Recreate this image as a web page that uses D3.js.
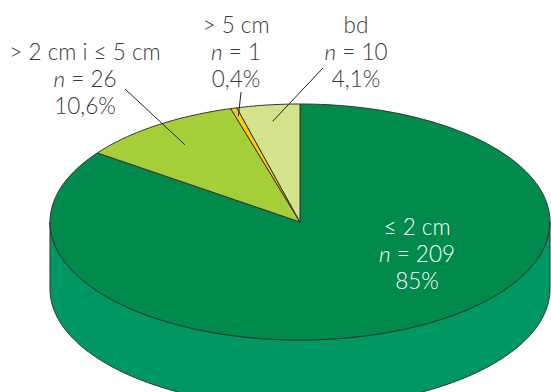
<!DOCTYPE html>
<html>
<head>
<meta charset="utf-8">
<script src="https://cdn.jsdelivr.net/npm/d3@7"></script>
<style>
  html, body { margin: 0; padding: 0; background: #fff; }
  svg { display: block; }
  .lbl { font-family: Lato, "Open Sans", sans-serif; font-weight: 300; font-size: 22.5px; }
</style>
</head>
<body>
<svg id="chart" width="551" height="392"></svg>
<script>
// ---- data ----
const categories = ['≤ 2 cm', '> 2 cm i ≤ 5 cm', '> 5 cm', 'bd'];
const counts     = [209, 26, 1, 10];
const percents   = ['85%', '10,6%', '0,4%', '4,1%'];
const topColors  = ['#008a4b', '#a6ce39', '#ffcc00', '#d3e38b'];
const sideColors = ['#009862', '#8fb52c', '#e0b000', '#bccb70'];

// ---- layout ----
const W = 551, H = 392;
const cx = 300, cy = 222, rx = 250, ry = 118, depth = 67;
// label anchor (centre of first line) + leader radius fraction (null = no leader)
const labelLayout = [
  { x: 417, y: 227, color: '#fff', lead: null },
  { x: 85,  y: 52,  color: '#3a3a3a', lead: 0.8,  from: [125, 89] },
  { x: 236, y: 25,  color: '#3a3a3a', lead: 0.93, from: [241, 92] },
  { x: 356, y: 25,  color: '#3a3a3a', lead: 0.86, from: [323, 68] }
];
const lineGap = 27;

const svg = d3.select('#chart');
const g = svg.append('g');

const data = categories.map((c, i) => ({ cat: c, n: counts[i], pct: percents[i], i }));
const pie = d3.pie().sort(null).value(d => d.n);
const arcs = pie(data);

const px = (a, r = 1) => cx + rx * r * Math.sin(a);
const py = (a, r = 1, dz = 0) => cy - ry * r * Math.cos(a) + dz;

function rimPath(a0, a1, dz, steps) {
  const pts = [];
  for (let k = 0; k <= steps; k++) {
    const a = a0 + (a1 - a0) * k / steps;
    pts.push([px(a), py(a, 1, dz)]);
  }
  return pts;
}

// side walls (front half only: angles pi/2 .. 3pi/2)
arcs.forEach(d => {
  const a0 = Math.max(d.startAngle, Math.PI / 2);
  const a1 = Math.min(d.endAngle, Math.PI * 1.5);
  if (a1 <= a0) return;
  const top = rimPath(a0, a1, 0, 120);
  const bot = rimPath(a0, a1, depth, 120).reverse();
  g.append('path')
    .attr('d', d3.line()(top.concat(bot)) + 'Z')
    .attr('fill', sideColors[d.data.i])
    .attr('stroke', '#333').attr('stroke-width', 1);
});

// top faces
arcs.forEach(d => {
  const steps = Math.max(4, Math.ceil((d.endAngle - d.startAngle) * 60));
  const pts = [[cx, cy]].concat(rimPath(d.startAngle, d.endAngle, 0, steps));
  g.append('path')
    .attr('d', d3.line()(pts) + 'Z')
    .attr('fill', topColors[d.data.i])
    .attr('stroke', '#333').attr('stroke-width', 1)
    .attr('stroke-linejoin', 'round');
});

// leader lines
arcs.forEach(d => {
  const L = labelLayout[d.data.i];
  if (L.lead == null) return;
  const mid = (d.startAngle + d.endAngle) / 2;
  g.append('line')
    .attr('x1', L.from[0]).attr('y1', L.from[1])
    .attr('x2', px(mid, L.lead)).attr('y2', py(mid, L.lead))
    .attr('stroke', '#222').attr('stroke-width', 1);
});

// labels
arcs.forEach(d => {
  const L = labelLayout[d.data.i];
  const t = g.append('text').attr('class', 'lbl')
    .attr('text-anchor', 'middle').attr('fill', L.color)
    .attr('x', L.x).attr('y', L.y).attr('dy', '0.35em');
  t.append('tspan').attr('x', L.x).text(d.data.cat);
  const l2 = t.append('tspan').attr('x', L.x).attr('dy', lineGap);
  l2.append('tspan').attr('font-style', 'italic').text('n');
  l2.append('tspan').text(' = ' + d.data.n);
  t.append('tspan').attr('x', L.x).attr('dy', lineGap).text(d.data.pct);
});
</script>
</body>
</html>
